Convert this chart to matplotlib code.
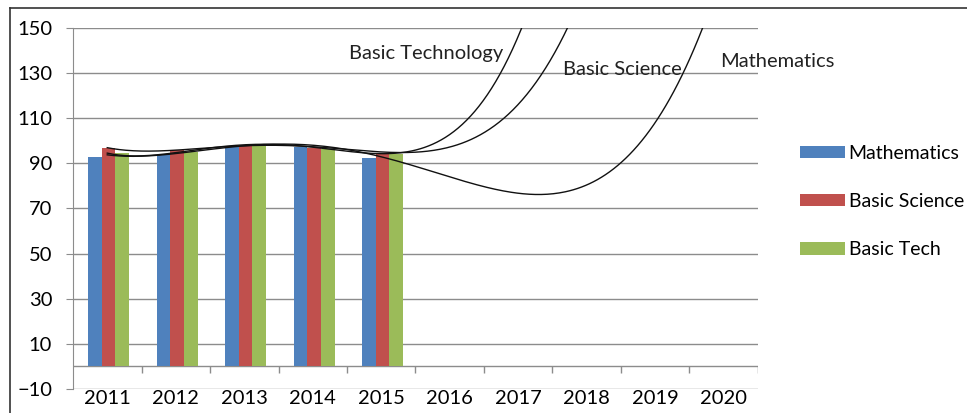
import numpy as np
import matplotlib.pyplot as plt
from matplotlib.lines import Line2D

plt.rcParams['font.family'] = ['Lato', 'DejaVu Sans']

years = ['2011', '2012', '2013', '2014', '2015', '2016', '2017', '2018', '2019', '2020']
series_names = ['Mathematics', 'Basic Science', 'Basic Tech']
mathematics = [92.7, 94.0, 97.4, 97.1, 92.2]
basic_science = [96.7, 95.9, 97.8, 96.7, 94.7]
basic_tech = [94.5, 94.9, 97.8, 96.2, 94.1]
colors = ['#4F81BD', '#C0504D', '#9BBB59']

# trend curves (category index, value)
math_trend_x = [0, 0.5, 1, 1.5, 2, 2.5, 3, 3.5, 4, 4.32, 4.81, 5.3, 5.78, 6.13, 6.57, 6.8, 7.29, 7.53, 7.78, 8.07, 8.36, 8.55, 8.72]
math_trend_y = [93.3, 93.6, 94.8, 96.5, 97.6, 98.0, 97.4, 96.0, 93.5, 90.6, 85.7, 81.3, 77.6, 76.6, 77.0, 79.1, 85.7, 90.2, 97.3, 110.1, 130.1, 141.6, 150.0]
sci_trend_x = [0, 0.5, 1, 1.5, 2, 2.5, 3, 3.5, 4, 4.32, 4.81, 5.3, 5.83, 6.36, 6.71]
sci_trend_y = [96.7, 95.8, 96.0, 96.9, 97.7, 97.9, 97.3, 96.0, 94.7, 95.0, 96.8, 101.0, 110.0, 130.0, 150.0]
tech_trend_x = [0, 0.5, 1, 1.5, 2, 2.5, 3, 3.5, 4, 4.32, 4.81, 5.3, 5.73, 6.05]
tech_trend_y = [94.0, 94.3, 95.0, 96.5, 97.6, 97.9, 97.4, 96.1, 94.6, 95.0, 99.0, 110.0, 130.0, 150.0]

fig = plt.figure(figsize=(9.67, 4.13), dpi=100)
# outer frame (top and left edges only)
fig.lines.append(Line2D([10 / 967, 1], [1 - 8 / 413] * 2, transform=fig.transFigure, color='#333333', linewidth=1.2))
fig.lines.append(Line2D([10 / 967] * 2, [0, 1 - 8 / 413], transform=fig.transFigure, color='#333333', linewidth=1.2))

ax = fig.add_axes([73 / 967, 1 - 389 / 413, 685 / 967, 361 / 413])

x = np.arange(len(mathematics))
w = 0.2
for k, vals in enumerate([mathematics, basic_science, basic_tech]):
    ax.bar(x + (k - 1) * w + 0.02, vals, width=w, color=colors[k], label=series_names[k], zorder=2)

# polynomial trend curves fitted to the points
for tx, ty in [(math_trend_x, math_trend_y), (sci_trend_x, sci_trend_y), (tech_trend_x, tech_trend_y)]:
    coef = np.polyfit(tx, ty, 4)
    sx = np.linspace(0, tx[-1] + 0.05, 300)
    ax.plot(sx, np.polyval(coef, sx), color='#111111', linewidth=1.0, zorder=3)

ax.set_xlim(-0.5, len(years) - 0.5)
ax.set_ylim(-10, 150)
ax.set_yticks(np.arange(-10, 151, 20))
ax.grid(axis='y', color='#8c8c8c', linewidth=1.0, zorder=0)
ax.set_axisbelow(True)
for s in ['top', 'right', 'bottom']:
    ax.spines[s].set_visible(False)
ax.spines['left'].set_color('#8c8c8c')
ax.tick_params(axis='y', length=5, color='#8c8c8c', labelsize=14.5, pad=10)
ax.set_xticks(np.arange(len(years)))
ax.set_xticklabels(years)
ax.tick_params(axis='x', length=0, labelsize=14.5, pad=1)

# category axis at zero with boundary ticks
ax.axhline(0, color='#8c8c8c', linewidth=1.0, zorder=1)
ax.vlines(np.arange(len(years)) + 0.5, -3.1, 0, color='#8c8c8c', linewidth=1.0)

ax.text(3.53, 138.5, 'Basic Technology', fontsize=14.5, va='center', ha='left', color='#222222')
ax.text(6.65, 131.4, 'Basic Science', fontsize=14.5, va='center', ha='left', color='#222222')
ax.text(8.94, 135.0, 'Mathematics', fontsize=14.5, va='center', ha='left', color='#222222')

handles, labels = ax.get_legend_handles_labels()
fig.legend(handles, labels, loc='upper left', bbox_to_anchor=(800 / 967, 1 - 145 / 413),
           frameon=False, fontsize=14, handlelength=2.3, handleheight=0.6,
           handletextpad=0.2, labelspacing=1.6, borderpad=0, borderaxespad=0)

fig.savefig('out.png', dpi=100)
